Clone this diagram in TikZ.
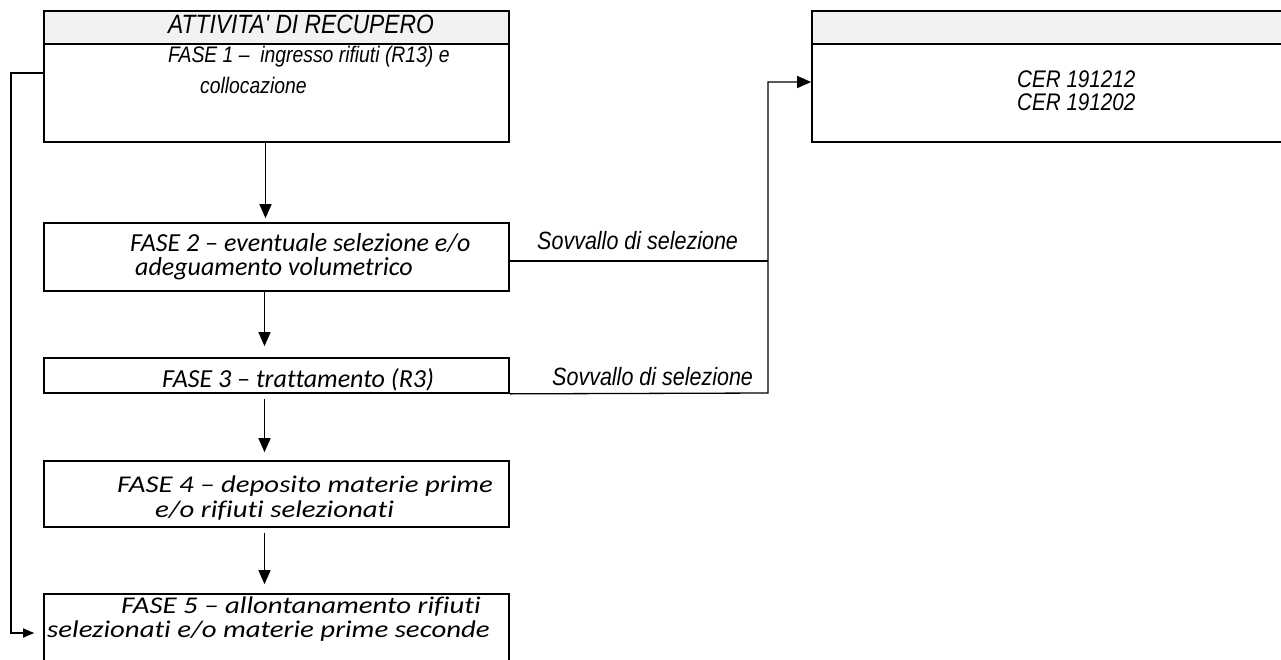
\documentclass[tikz,border=0pt]{standalone}
\usepackage{fontspec}
\setmainfont{Liberation Sans}
\usetikzlibrary{arrows.meta}
\newfontfamily\narrowfont[FakeStretch=0.86]{Liberation Sans}
\newfontfamily\califont[Ligatures=NoCommon]{Carlito}
\newfontfamily\wcalifont[FakeStretch=1.2,Ligatures=NoCommon]{Carlito}
\definecolor{hdrgray}{HTML}{F2F2F2}
\tikzset{
  boxshape/.style={draw=black, line width=1.7pt, inner sep=0pt, minimum width=465pt},
  hdrshape/.style={draw=black, line width=1.1pt, fill=hdrgray, inner sep=0pt, minimum width=465pt, minimum height=33pt},
  txt/.style={inner sep=0pt, anchor=base west, text=black, text height=14pt, text depth=3pt},
  nar/.style={font=\narrowfont\itshape\fontsize{#1}{#1}\selectfont},
  cal/.style={font=\califont\itshape\fontsize{#1}{#1}\selectfont},
  wcal/.style={font=\wcalifont\itshape\fontsize{#1}{#1}\selectfont},
  arrowline/.style={line width=1.3pt, -{Triangle[length=14pt,width=12pt]}},
  smallarrow/.style={line width=1.3pt, -{Triangle[length=11pt,width=9pt]}},
  plainline/.style={line width=1.3pt}
}
\begin{document}
\begin{tikzpicture}[x=1pt,y=-1pt]
\useasboundingbox (0,0) rectangle (1281,659);
\clip (0,0) rectangle (1281,659);
% left column boxes
\node[hdrshape] (h1) at (276.5,27.5) {};
\node[boxshape, minimum height=98pt] (b1) at (276.5,93) {};
\node[boxshape, minimum height=68pt] (b2) at (276.5,257) {};
\node[boxshape, minimum height=35pt] (b3) at (276.5,375.5) {};
\node[boxshape, minimum height=66pt] (b4) at (276.5,494) {};
\node[boxshape, minimum height=80pt] (b5) at (276.5,634) {};
% right box
\node[hdrshape, minimum width=480pt] (h6) at (1052,27.5) {};
\node[boxshape, minimum width=480pt, minimum height=98pt] (b6) at (1052,93) {};
% texts
\node[txt, nar=26.5] (t0) at (168,33) {ATTIVITA' DI RECUPERO};
\node[txt, nar=22.5] (t1a) at (168,62) {FASE 1 –\ \ ingresso rifiuti (R13) e};
\node[txt, nar=22.5] (t1b) at (200,93) {collocazione};
\node[txt, cal=26] (t2a) at (130,251) {FASE 2 – eventuale selezione e/o};
\node[txt, cal=26] (t2b) at (135,275) {adeguamento volumetrico};
\node[txt, cal=26] (t3) at (162,387) {FASE 3 – trattamento (R3)};
\node[txt, wcal=24] (t4a) at (117,492) {FASE 4 – deposito materie prime};
\node[txt, wcal=24] (t4b) at (155,517) {e/o rifiuti selezionati};
\node[txt, wcal=24] (t5a) at (121,613) {FASE 5 – allontanamento rifiuti};
\node[txt, wcal=24] (t5b) at (47,637) {selezionati e/o materie prime seconde};
\node[txt, nar=24, text height=13pt, text depth=1pt] (t6a) at (1017,87) {CER 191212};
\node[txt, nar=24, text height=13pt, text depth=1pt] (t6b) at (1017,110) {CER 191202};
\node[txt, nar=25] (s1) at (537,249) {Sovvallo di selezione};
\node[txt, nar=25] (s2) at (552,385) {Sovvallo di selezione};
% junction coordinates
\coordinate (fbcorner) at (11,633);
\coordinate (jn) at (768,393);
% vertical flow arrows
\draw[arrowline, shorten >=4pt] ([xshift=-11pt]b1.south) -- ([xshift=-11pt]b2.north);
\draw[arrowline, shorten >=11pt] ([xshift=-12pt]b2.south) -- ([xshift=-12pt]b3.north);
\draw[arrowline, shorten <=5pt, shorten >=8pt] ([xshift=-12pt]b3.south) -- ([xshift=-12pt]b4.north);
\draw[arrowline, shorten <=5pt, shorten >=9pt] ([xshift=-12pt]b4.south) -- ([xshift=-12pt]b5.north);
% feedback from phase 1 to phase 5
\draw[smallarrow, shorten >=9pt] ([yshift=20pt]b1.west) -| (fbcorner) -- (fbcorner -| b5.west);
% sovvallo connections
\draw[plainline] ([yshift=-4pt]b2.east) -- ([yshift=-4pt]b2.east -| jn);
\draw[arrowline] (b3.south east) -- (jn) |- ([yshift=11pt]b6.west);
\end{tikzpicture}
\end{document}
